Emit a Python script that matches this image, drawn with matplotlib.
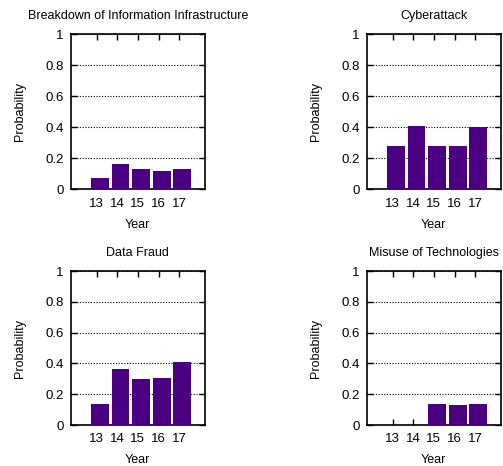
import matplotlib
matplotlib.use("Agg")
import matplotlib.pyplot as plt
import numpy as np

plt.rcParams['font.family'] = ['Liberation Sans', 'DejaVu Sans']

years = [13, 14, 15, 16, 17]
titles = ["Breakdown of Information Infrastructure", "Cyberattack",
          "Data Fraud", "Misuse of Technologies"]
breakdown = [0.073, 0.163, 0.131, 0.118, 0.131]
cyberattack = [0.282, 0.409, 0.282, 0.282, 0.402]
data_fraud = [0.136, 0.364, 0.299, 0.307, 0.409]
misuse = [0.0, 0.0, 0.139, 0.130, 0.139]
series = [breakdown, cyberattack, data_fraud, misuse]
yticks = [0, 0.2, 0.4, 0.6, 0.8, 1]
ytick_labels = ["0", "0.2", "0.4", "0.6", "0.8", "1"]

W, H = 503, 466
fig = plt.figure(figsize=(W / 100, H / 100), dpi=100)

# axes boxes in pixels: (left, top, right, bottom)
boxes = [(70.7, 34.3, 205, 189.3), (366.7, 34.3, 501, 189.3),
         (70.7, 271, 205, 425), (366.7, 271, 501, 425)]
color = '#4B0082'

for box, title, vals in zip(boxes, titles, series):
    l, t, r, b = box
    ax = fig.add_axes([l / W, (H - b) / H, (r - l) / W, (b - t) / H])
    x = np.array(years, dtype=float) + 0.16
    ax.bar(x, vals, width=0.87, color=color, zorder=3)
    ax.set_xlim(11.75, 18.25)
    ax.set_ylim(0, 1)
    ax.set_xticks(years)
    ax.set_xticklabels([str(y) for y in years], fontsize=9.5)
    ax.set_yticks(yticks)
    ax.set_yticklabels(ytick_labels, fontsize=9.5)
    ax.tick_params(direction='in', length=4, width=1, top=True, right=True,
                   pad=5, colors='black')
    ax.tick_params(axis='x', pad=6)
    ax.yaxis.grid(True, linestyle=(0, (1, 1.5)), color='black', linewidth=0.8, zorder=1)
    for s in ax.spines.values():
        s.set_linewidth(1.2)
    ax.set_title(title, fontsize=9, pad=11)
    ax.set_xlabel("Year", fontsize=9, labelpad=6.5)
    ax.set_ylabel("Probability", fontsize=9, labelpad=14)

fig.savefig("out.png", dpi=100)
